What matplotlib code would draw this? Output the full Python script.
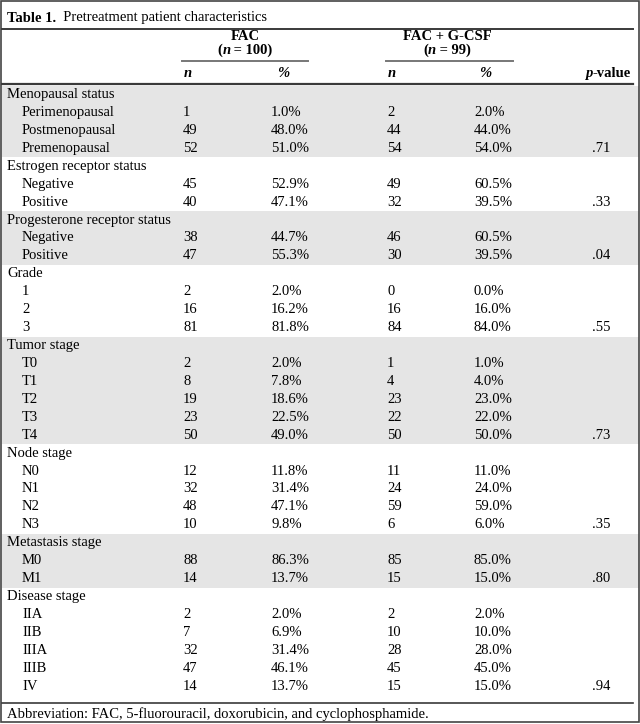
import matplotlib.pyplot as plt
from matplotlib.patches import Rectangle

# ---- table data ----
groups = ["Menopausal status", "Estrogen receptor status", "Progesterone receptor status",
          "Grade", "Tumor stage", "Node stage", "Metastasis stage", "Disease stage"]
items = [
    ["Perimenopausal", "Postmenopausal", "Premenopausal"],
    ["Negative", "Positive"],
    ["Negative", "Positive"],
    ["1", "2", "3"],
    ["T0", "T1", "T2", "T3", "T4"],
    ["N0", "N1", "N2", "N3"],
    ["M0", "M1"],
    ["IIA", "IIB", "IIIA", "IIIB", "IV"],
]
fac_n = [[1, 49, 52], [45, 40], [38, 47], [2, 16, 81], [2, 8, 19, 23, 50],
         [12, 32, 48, 10], [88, 14], [2, 7, 32, 47, 14]]
fac_pct = [[1.0, 48.0, 51.0], [52.9, 47.1], [44.7, 55.3], [2.0, 16.2, 81.8],
           [2.0, 7.8, 18.6, 22.5, 49.0], [11.8, 31.4, 47.1, 9.8], [86.3, 13.7],
           [2.0, 6.9, 31.4, 46.1, 13.7]]
gcsf_n = [[2, 44, 54], [49, 32], [46, 30], [0, 16, 84], [1, 4, 23, 22, 50],
          [11, 24, 59, 6], [85, 15], [2, 10, 28, 45, 15]]
gcsf_pct = [[2.0, 44.0, 54.0], [60.5, 39.5], [60.5, 39.5], [0.0, 16.0, 84.0],
            [1.0, 4.0, 23.0, 22.0, 50.0], [11.0, 24.0, 59.0, 6.0], [85.0, 15.0],
            [2.0, 10.0, 28.0, 45.0, 15.0]]
p_values = [".71", ".33", ".04", ".55", ".73", ".35", ".80", ".94"]

title_bold = "Table 1."
title_rest = "  Pretreatment patient characteristics"
footnote = "Abbreviation: FAC, 5-fluorouracil, doxorubicin, and cyclophosphamide."

# ---- layout (pixel units) ----
W, H = 640, 724
FONT = "Liberation Serif"
FS = 10.5
ROW0 = 94.5
PITCH = 17.93
X_LABEL, X_ITEM = 7, 22
X_FAC_N, X_FAC_P = 183, 271
X_GC_N, X_GC_P = 387, 474
X_PVAL = 592
GRAY = "#e5e5e5"
LINE = "#3a3a3a"

fig = plt.figure(figsize=(W / 100, H / 100), dpi=100)
ax = fig.add_axes([0, 0, 1, 1])
ax.set_xlim(0, W)
ax.set_ylim(H, 0)
ax.axis("off")
renderer = fig.canvas.get_renderer()


def put(x, y, s, **kw):
    kw.setdefault("fontsize", FS)
    kw.setdefault("family", FONT)
    kw.setdefault("va", "center")
    return ax.text(x, y, s, color="black", **kw)


def runs(x, y, parts, center=False, right=False):
    # draw a sequence of (text, weight, style) pieces side by side
    arts = [put(0, y, s, fontweight=w, fontstyle=st, ha="left") for s, w, st in parts]
    widths = []
    for a in arts:
        bb = a.get_window_extent(renderer)
        widths.append(bb.width)
    total = sum(widths)
    start = x - total / 2 if center else (x - total if right else x)
    for a, wd in zip(arts, widths):
        a.set_x(start)
        start += wd


# outer frame
ax.add_patch(Rectangle((0.8, 0.8), W - 1.6, H - 3.0, fill=False, ec="#444444", lw=1.2))

# title
runs(X_LABEL, 18, [(title_bold, "bold", "normal"), (title_rest, "normal", "normal")])
ax.plot([2, 633], [28.5, 28.5], color=LINE, lw=1.4)

# column headers
for xc, name, n_text, (x0, x1) in [(245, "FAC", " = 100)", (182, 308)),
                                   (447, "FAC + G-CSF", " = 99)", (386, 513))]:
    put(xc, 37, name, fontweight="bold", ha="center")
    runs(xc, 50, [("(", "bold", "normal"), ("n", "bold", "italic"), (n_text, "bold", "normal")],
         center=True)
    ax.plot([x0, x1], [61, 61], color="#777777", lw=1.4)

put(X_FAC_N + 1, 73.5, "n", fontweight="bold", fontstyle="italic")
put(X_FAC_P + 6, 73.5, "%", fontweight="bold", fontstyle="italic")
put(X_GC_N + 1, 73.5, "n", fontweight="bold", fontstyle="italic")
put(X_GC_P + 5, 73.5, "%", fontweight="bold", fontstyle="italic")
runs(631, 73.5, [("p", "bold", "italic"), ("-value", "bold", "normal")], right=True)
ax.plot([2, 633], [84, 84], color=LINE, lw=1.6)

# body rows
row = 0
for g, name in enumerate(groups):
    first = row
    put(X_LABEL, ROW0 + PITCH * row, name)
    row += 1
    for k, item in enumerate(items[g]):
        y = ROW0 + PITCH * row
        put(X_ITEM, y, item)
        put(X_FAC_N, y, str(fac_n[g][k]))
        put(X_FAC_P, y, f"{fac_pct[g][k]:.1f}%")
        put(X_GC_N, y, str(gcsf_n[g][k]))
        put(X_GC_P, y, f"{gcsf_pct[g][k]:.1f}%")
        if k == len(items[g]) - 1:
            put(X_PVAL, y, p_values[g])
        row += 1
    if g % 2 == 0:
        top = ROW0 + PITCH * first - PITCH / 2
        bot = ROW0 + PITCH * (row - 1) + PITCH / 2
        ax.add_patch(Rectangle((1.5, top), W - 3, bot - top, color=GRAY, lw=0, zorder=0))

y_end = ROW0 + PITCH * (row - 1) + PITCH / 2 + 8
ax.plot([2, 633], [y_end, y_end], color=LINE, lw=1.2)
put(X_LABEL, y_end + 11, footnote)

fig.savefig("out.png", dpi=100)
